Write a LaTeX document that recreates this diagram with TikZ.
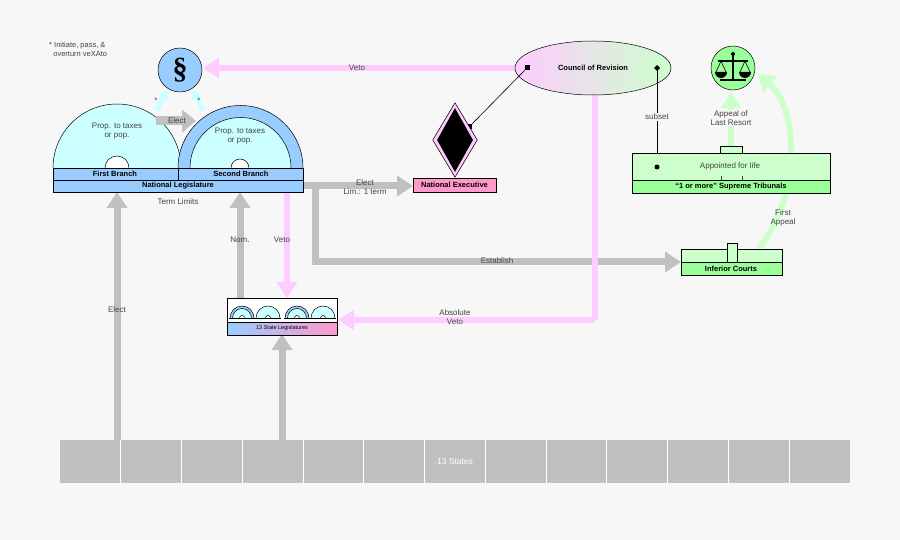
\documentclass[tikz,border=0pt]{standalone}
\usepackage{fontspec}
\setmainfont{Liberation Sans}
\newfontfamily\serifsec{Liberation Serif}
\usetikzlibrary{arrows.meta,shapes.geometric}
\definecolor{bg}{HTML}{F7F7F7}
\definecolor{lb}{HTML}{99CCFF}
\definecolor{cy}{HTML}{CCFFFF}
\definecolor{gr}{HTML}{C0C0C0}
\definecolor{pk}{HTML}{FFCCFF}
\definecolor{lg}{HTML}{CCFFCC}
\definecolor{mg}{HTML}{99FF99}
\definecolor{hp}{HTML}{FF99CC}
\definecolor{tx}{HTML}{444444}
\tikzset{
 lbl/.style={font=\fontsize{8}{9}\selectfont,text=tx,align=center,inner sep=1pt},
 bold/.style={font=\bfseries\fontsize{7.5}{8}\selectfont,inner sep=0pt},
 garr/.style={draw=gr,line width=7pt,-{Triangle[length=16pt,width=20pt]}},
 parr/.style={draw=pk,line width=6pt,-{Triangle[length=16pt,width=20pt]}},
 carr/.style={draw=cy,line width=5pt,-{Triangle[length=9pt,width=13pt]}},
 larr/.style={draw=lg,line width=6pt,-{Triangle[length=16pt,width=20pt]}},
 box/.style={draw=black,line width=0.5pt},
}
\begin{document}
\begin{tikzpicture}[x=1pt,y=-1pt]
\fill[bg] (0,0) rectangle (900,540);
\useasboundingbox (0,0) rectangle (900,540);
% note
\node[lbl,align=left,anchor=north west,font=\fontsize{7.5}{9}\selectfont] (note) at (48,41) {* Initiate, pass, \&\\ \ \ overturn veXAto};
% gray arrows
\coordinate (s1) at (117,440); \coordinate (s2) at (282,440);
\coordinate (j1) at (315,186); \coordinate (j2) at (315,262);
\draw[garr] (s1) -- (117,192);
\node[lbl] (elect1) at (117,310) {Elect};
\draw[garr] (240,298) -- (240,192);
\node[lbl] (nom) at (240,240) {Nom.};
\draw[garr] (s2) -- (282,334);
\draw[garr] (303,186) -- (413,186);
\node[lbl] (elect2) at (365,187) {Elect\\Lim.: 1 term};
\draw[draw=gr,line width=7pt] (j1) -- (j2) -- (600,262);
\draw[garr] (600,262) -- (681,262);
\node[lbl] (est) at (497,261) {Establish};
% pink
\draw[parr] (287,192) -- (287,298);
\node[lbl] (veto2) at (282,240) {Veto};
\draw[parr] (520,68) -- (203,68);
\node[lbl] (veto1) at (357,68) {Veto};
\draw[draw=pk,line width=6pt] (595,90) -- (595,320);
\draw[parr] (595,320) -- (338,320);
\node[lbl] (abs) at (455,317) {Absolute\\Veto};
% green
\draw[larr] (731,153) -- (731,92);
\node[lbl,fill=bg] (lr) at (731,118) {Appeal of\\Last Resort};
\draw[larr] (758,249) .. controls (800,200) and (800,110) .. (758,74);
\node[lbl] (fa) at (783,218) {First\\Appeal};
% section circle
\node[circle,box,fill=lb,minimum size=44pt,inner sep=0pt,font=\serifsec\bfseries\fontsize{30}{30}\selectfont] (sec) at (180,70) {\S};
% domes
\draw[box,fill=cy] (53,168) arc[start angle=180,end angle=360,radius=64];
\draw[box,fill=white] (105,168) arc[start angle=180,end angle=360,radius=12];
\draw[box,fill=lb] (178,168) arc[start angle=180,end angle=360,radius=62.5];
\draw[box,fill=cy] (190,168) arc[start angle=180,end angle=360,radius=50.5];
\draw[box,fill=white] (231,168) arc[start angle=180,end angle=360,radius=9];
\draw[carr] (157,110) -- (167,90);
\draw[carr] (203,110) -- (193,90);
\node[lbl] (st1) at (156,101) {*};
\node[lbl] (st2) at (199,101) {*};
\draw[draw=gr,line width=9pt,-{Triangle[length=14pt,width=22pt]}] (156,121) -- (196,121);
\node[lbl] (el) at (177,121) {Elect};
\node[lbl] (p1) at (117,131) {Prop. to taxes\\or pop.};
\node[lbl] (p2) at (240,136) {Prop. to taxes\\or pop.};
\draw[box,fill=lb] (53,168) rectangle (178,180);
\draw[box,fill=lb] (178,168) rectangle (303,180);
\draw[box,fill=lb] (53,180) rectangle (303,192);
\node[bold] (fb) at (115,174) {First Branch};
\node[bold] (sb) at (241,174) {Second Branch};
\node[bold] (nl) at (178,186) {National Legislature};
\node[lbl] (tl) at (178,202) {Term Limits};
% council
\node[ellipse,box,left color=pk,right color=lg,minimum width=156pt,minimum height=54pt,font=\bfseries\fontsize{7.5}{8}\selectfont] (cr) at (593,68) {Council of Revision};
\coordinate (cq) at (527,68); \coordinate (dq) at (469,127);
\draw[black,line width=0.6pt] (cq) -- (dq);
\fill (cq) ++(-2.5,-2.5) rectangle ++(5,5);
\fill (dq) ++(-2.5,-2.5) rectangle ++(5,5);
% diamond
\node[diamond,draw=hp,fill=pk,line width=0.5pt,minimum width=44pt,minimum height=74pt,inner sep=0pt,aspect=0.6] (dia) at (455,140) {};
\node[diamond,fill=black,minimum width=36pt,minimum height=64pt,inner sep=0pt,aspect=0.6] (dia2) at (455,140) {};
\draw[box] (dia.north) -- (dia.east) -- (dia.south) -- (dia.west) -- cycle;
\node[box,fill=hp,minimum width=83pt,minimum height=14pt,inner sep=0pt,font=\bfseries\fontsize{7.5}{8}\selectfont] (ne) at (454.5,185) {National Executive};
% subset
\coordinate (sa) at (657,68); \coordinate (sbb) at (657,167);
\draw[black,line width=0.6pt] (sa) -- (sbb);
\fill (sa) ++(0,-3) -- ++(3,3) -- ++(-3,3) -- ++(-3,-3) -- cycle;
\node[lbl,fill=bg] (sub) at (657,117) {subset};
% supreme
\draw[box,fill=lg] (720,146) rectangle (742,153);
\draw[box,fill=lg] (632,153) rectangle (830,180);
\draw[box,fill=mg] (632,180) rectangle (830,193);
\draw[tx,line width=0.4pt] (721,176) -- (721,180) (742,176) -- (742,180);
\fill (sbb) circle (2.5);
\node[lbl] (afl) at (730,166) {Appointed for life};
\node[bold] (sup) at (731,187) {``1 or more'' Supreme Tribunals};
% scale
\node[circle,box,fill=mg,minimum size=44pt,inner sep=0pt] (sc) at (733,68) {};
\begin{scope}[line width=1.3pt]
\draw (733,55) -- (733,80);
\draw (720,80) -- (746,80);
\draw (718,61) -- (748,61);
\fill (733,54) circle (2);
\draw[line width=0.6pt] (721,61) -- (716,72) (721,61) -- (726,72) (745,61) -- (740,72) (745,61) -- (750,72);
\fill (715,72) arc[start angle=180,end angle=0,radius=6] -- cycle;
\fill (739,72) arc[start angle=180,end angle=0,radius=6] -- cycle;
\end{scope}
% inferior
\draw[box,fill=lg] (681,249) rectangle (782,262);
\draw[box,fill=mg] (681,262) rectangle (782,275);
\draw[box,fill=lg] (727,243) rectangle (737,262);
\node[bold] (ic) at (731,268.5) {Inferior Courts};
% state legislatures
\draw[box,fill=white] (227,298) rectangle (337,322);
\shade[left color=lb,right color=hp] (227,322) rectangle (337,335);
\draw[box] (227,322) rectangle (337,335);
\node[font=\fontsize{5.5}{6}\selectfont,inner sep=0pt] (sl) at (282,328.5) {13 State Legislatures};
\foreach \cx/\ring in {242/1,268/0,297/1,323/0}{
  \ifnum\ring=1
   \draw[box,fill=lb] (\cx-12,318) arc[start angle=180,end angle=360,radius=12];
   \draw[box,fill=cy] (\cx-9.5,318) arc[start angle=180,end angle=360,radius=9.5];
  \else
   \draw[box,fill=cy] (\cx-12,318) arc[start angle=180,end angle=360,radius=12];
  \fi
  \draw[box,fill=white] (\cx-2.5,318) arc[start angle=180,end angle=360,radius=2.5];
  \draw[box] (\cx-13,318) -- (\cx+13,318);
}
% 13 states
\fill[gr] (60,440) rectangle (850,483);
\foreach \i in {1,...,12}{\draw[white,line width=1pt] ({60+\i*60.77},440) -- ({60+\i*60.77},483);}
\node[font=\fontsize{8.5}{9}\selectfont,text=white] (states) at (455,462) {13 States};
\end{tikzpicture}
\end{document}
